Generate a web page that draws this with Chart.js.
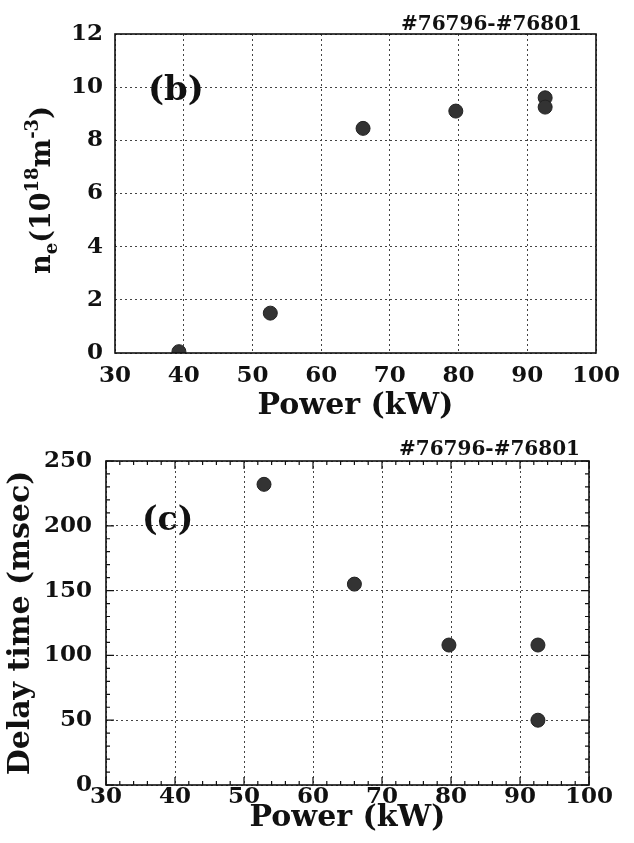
<!DOCTYPE html>
<html>
<head>
<meta charset="utf-8">
<script src="https://cdn.jsdelivr.net/npm/chart.js@4.4.1/dist/chart.umd.min.js"></script>
<style>
  html, body { margin: 0; padding: 0; background: #fff; }
  .panel { position: absolute; left: 0; width: 634px; }
  #wrapB { top: 0; height: 425px; }
  #wrapC { top: 425px; height: 418px; }
</style>
</head>
<body>
<div class="panel" id="wrapB"><canvas id="chartB"></canvas></div>
<div class="panel" id="wrapC"><canvas id="chartC"></canvas></div>
<script>
// panel (b): density vs power
const powerB = [39.3, 52.6, 66.1, 79.6, 92.6, 92.6];
const densityB = [0.05, 1.5, 8.45, 9.1, 9.6, 9.25];
// panel (c): delay time vs power
const powerC = [52.9, 66.0, 79.7, 92.6, 92.6];
const delayC = [232, 155, 108, 108, 50];

const shotRange = '#76796-#76801';
const xTitle = 'Power (kW)';
const yTitleC = 'Delay time (msec)';
// n_e (10^18 m^-3) in pieces: text, size, baseline shift
const yTitleB = [
  ['n', 27, 0], ['e', 18, 7], ['(10', 27, 0], ['18', 18, -12],
  ['m', 27, 0], ['-3', 18, -12], [')', 27, 0]
];

const FONT = '"DejaVu Serif", "Liberation Serif", serif';
const INK = '#111';

Chart.defaults.font.family = FONT;
Chart.defaults.font.weight = 'bold';
Chart.defaults.color = INK;

// frame, inward ticks, panel tag, shot range, rich y title
const paper = {
  id: 'paper',
  afterDraw(chart, args, o) {
    const {ctx, chartArea: a, scales} = chart;
    ctx.save();
    ctx.strokeStyle = INK;
    if (o.minor) {
      ctx.lineWidth = 1.2;
      const [xs, xm, ys, ym] = o.minor;
      const xsc = scales.x, ysc = scales.y;
      for (let v = xsc.min; v <= xsc.max + 1e-6; v += xs) {
        const p = xsc.getPixelForValue(v);
        const len = Math.abs(v % xm) < 1e-6 ? 8 : 4;
        ctx.beginPath();
        ctx.moveTo(p, a.bottom); ctx.lineTo(p, a.bottom - len);
        ctx.moveTo(p, a.top); ctx.lineTo(p, a.top + len);
        ctx.stroke();
      }
      for (let v = ysc.min; v <= ysc.max + 1e-6; v += ys) {
        const p = ysc.getPixelForValue(v);
        const len = Math.abs(v % ym) < 1e-6 ? 8 : 4;
        ctx.beginPath();
        ctx.moveTo(a.left, p); ctx.lineTo(a.left + len, p);
        ctx.moveTo(a.right, p); ctx.lineTo(a.right - len, p);
        ctx.stroke();
      }
    }
    ctx.lineWidth = 1.6;
    ctx.strokeRect(a.left, a.top, a.right - a.left, a.bottom - a.top);

    ctx.fillStyle = INK;
    ctx.textBaseline = 'alphabetic';
    ctx.textAlign = 'right';
    ctx.font = 'bold 20px ' + FONT;
    ctx.fillText(shotRange, o.shotX, o.shotY);
    ctx.textAlign = 'left';
    ctx.font = 'bold ' + o.tagSize + 'px ' + FONT;
    ctx.fillText(o.tag, o.tagX, o.tagY);

    if (o.rich) {
      let total = 0;
      o.rich.forEach(([t, s]) => {
        ctx.font = 'bold ' + s + 'px ' + FONT;
        total += ctx.measureText(t).width;
      });
      ctx.translate(o.richX, o.richY);
      ctx.rotate(-Math.PI / 2);
      let x = -total / 2;
      o.rich.forEach(([t, s, dy]) => {
        ctx.font = 'bold ' + s + 'px ' + FONT;
        ctx.fillText(t, x, dy);
        x += ctx.measureText(t).width;
      });
    }
    ctx.restore();
  }
};

function axisX(pad, titlePad, height) {
  return {
    type: 'linear', min: 30, max: 100,
    ticks: { stepSize: 10, autoSkip: false, maxRotation: 0, padding: pad,
             font: { size: 23, weight: 'bold', lineHeight: 1 } },
    grid: { color: '#444', lineWidth: 1, drawTicks: false },
    border: { display: false, dash: [2, 3] },
    title: { display: true, text: xTitle, font: { size: 30, weight: 'bold' },
             padding: { top: 0, bottom: titlePad } },
    afterFit: s => { s.height = height; }
  };
}

function dots(xs, ys) {
  return [{
    data: xs.map((x, i) => ({ x: x, y: ys[i] })),
    backgroundColor: '#333',
    borderColor: '#222',
    borderWidth: 1,
    pointRadius: 7,
    pointHoverRadius: 7
  }];
}

const common = {
  responsive: true,
  maintainAspectRatio: false,
  animation: false,
  devicePixelRatio: 1,
  events: []
};

new Chart(document.getElementById('chartB'), {
  type: 'scatter',
  data: { datasets: dots(powerB, densityB) },
  options: {
    ...common,
    layout: { padding: { left: 0, right: 38, top: 34, bottom: 0 } },
    scales: {
      x: axisX(11.5, 1, 72),
      y: {
        min: 0, max: 12,
        ticks: { stepSize: 2, padding: 12, font: { size: 23, weight: 'bold', lineHeight: 1 } },
        grid: { color: '#444', lineWidth: 1, drawTicks: false },
        border: { display: false, dash: [2, 3] },
        afterFit: s => { s.width = 115; }
      }
    },
    plugins: {
      legend: { display: false },
      tooltip: { enabled: false },
      paper: { tag: '(b)', tagSize: 34, tagX: 148, tagY: 100,
               shotX: 582, shotY: 30,
               rich: yTitleB, richX: 50, richY: 190 }
    }
  },
  plugins: [paper]
});

new Chart(document.getElementById('chartC'), {
  type: 'scatter',
  data: { datasets: dots(powerC, delayC) },
  options: {
    ...common,
    layout: { padding: { left: 0, right: 45, top: 36, bottom: 0 } },
    scales: {
      x: axisX(0.5, 7, 58),
      y: {
        min: 0, max: 250,
        ticks: { stepSize: 50, padding: 14, font: { size: 23, weight: 'bold', lineHeight: 1 } },
        grid: { color: '#444', lineWidth: 1, drawTicks: false },
        border: { display: false, dash: [2, 3] },
        title: { display: true, text: yTitleC, font: { size: 30, weight: 'bold' },
                 padding: { top: 3, bottom: 0 } },
        afterFit: s => { s.width = 106; }
      }
    },
    plugins: {
      legend: { display: false },
      tooltip: { enabled: false },
      paper: { tag: '(c)', tagSize: 33, tagX: 142, tagY: 105,
               shotX: 580, shotY: 30, minor: [2, 10, 10, 50] }
    }
  },
  plugins: [paper]
});
</script>
</body>
</html>
